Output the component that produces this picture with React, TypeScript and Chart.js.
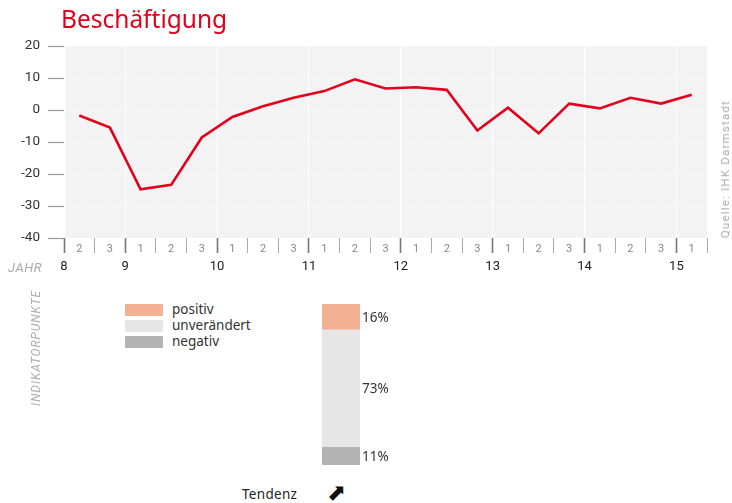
import React, { useEffect, useRef } from 'react';
import { Chart, registerables } from 'chart.js';

Chart.register(...registerables);

// ---------- data ----------
const periodLabels = ['2', '3', '1', '2', '3', '1', '2', '3', '1', '2', '3', '1', '2', '3', '1', '2', '3', '1', '2', '3', '1'];
const employment = [-1.7, -5.5, -24.8, -23.4, -8.6, -2.2, 1.2, 3.8, 5.9, 9.6, 6.7, 7.1, 6.3, -6.4, 0.7, -7.3, 2.0, 0.5, 3.8, 2.0, 4.8];
const yearStarts = [0, 2, 5, 8, 11, 14, 17, 20];
const yearLabels = ['8', '9', '10', '11', '12', '13', '14', '15'];
const yMin = -40;
const yMax = 20;
const yStep = 10;
const shareCategories = ['negativ', 'unverändert', 'positiv'];
const shareValues = [11, 73, 16];
const legendOrder = ['positiv', 'unverändert', 'negativ'];

// ---------- styles ----------
const RED = '#e2001a';
const shareColors: Record<string, string> = {
  positiv: '#f4b092',
  'unverändert': '#e6e6e6',
  negativ: '#b3b3b3',
};

const bgPlugin = {
  id: 'bgPlugin',
  beforeDraw(chart: any) {
    const { ctx, chartArea } = chart;
    if (!chartArea) return;
    ctx.save();
    ctx.fillStyle = '#f3f3f3';
    ctx.fillRect(chartArea.left, chartArea.top, chartArea.right - chartArea.left, chartArea.bottom - chartArea.top);
    ctx.restore();
  },
};

const barLabelPlugin = {
  id: 'barLabelPlugin',
  afterDatasetsDraw(chart: any) {
    const { ctx } = chart;
    ctx.save();
    ctx.font = '13.5px "Noto Sans", sans-serif';
    ctx.fillStyle = '#333';
    ctx.textBaseline = 'middle';
    ctx.textAlign = 'left';
    chart.data.datasets.forEach((ds: any, i: number) => {
      const meta = chart.getDatasetMeta(i);
      const el: any = meta.data[0];
      if (!el) return;
      const x = el.x + el.width / 2 + 2;
      const y = (el.y + el.base) / 2 + 1;
      ctx.fillText(ds.data[0] + '%', x, y);
    });
    ctx.restore();
  },
};

function LineChart() {
  const ref = useRef<HTMLCanvasElement>(null);
  useEffect(() => {
    if (!ref.current) return;
    const isYear = (i: any) => typeof i === 'number' && yearStarts.includes(i);
    const chart = new Chart(ref.current, {
      type: 'line',
      data: {
        labels: periodLabels,
        datasets: [
          {
            data: employment,
            borderColor: RED,
            borderWidth: 2.6,
            pointRadius: 0,
            tension: 0,
            fill: false,
          },
        ],
      },
      options: {
        responsive: false,
        animation: false,
        events: [],
        layout: { padding: { left: 0, right: 25, top: 46, bottom: 13 } },
        plugins: { legend: { display: false }, tooltip: { enabled: false } },
        scales: {
          x: {
            type: 'category',
            position: 'bottom',
            offset: true,
            weight: 1,
            border: { display: false },
            grid: {
              offset: true,
              color: (c: any) => (isYear(c.index) ? '#ffffff' : 'rgba(0,0,0,0)'),
              lineWidth: 1,
              tickColor: (c: any) => (isYear(c.index) ? '#777' : '#aaa'),
              tickWidth: (c: any) => (isYear(c.index) ? 1.6 : 1),
              tickLength: 15,
              tickBorderDash: [],
            },
            ticks: {
              autoSkip: false,
              maxRotation: 0,
              padding: -10,
              color: '#888',
              font: { family: 'Roboto', size: 11 },
            },
            afterFit: (s: any) => {
              s.height = 17;
            },
          },
          xYear: {
            type: 'linear',
            position: 'bottom',
            min: 0,
            max: periodLabels.length,
            weight: 2,
            border: { display: false },
            grid: { display: false, drawTicks: false, drawOnChartArea: false },
            afterBuildTicks: (s: any) => {
              s.ticks = yearStarts.map((v) => ({ value: v }));
            },
            ticks: {
              autoSkip: false,
              maxRotation: 0,
              padding: 4,
              color: '#222',
              font: { family: 'Roboto', size: 13 },
              callback: (v: any) => {
                const idx = yearStarts.indexOf(Number(v));
                return idx >= 0 ? yearLabels[idx] : '';
              },
            },
            afterFit: (s: any) => {
              s.height = 22;
            },
          },
          y: {
            type: 'linear',
            min: yMin,
            max: yMax,
            border: { display: false, dash: [1, 2] },
            grid: {
              color: (c: any) =>
                c.tick && (c.tick.value === yMin || c.tick.value === yMax) ? 'rgba(0,0,0,0)' : '#ffffff',
              lineWidth: 1,
              tickColor: '#999',
              tickLength: 16,
              tickWidth: 1.2,
              tickBorderDash: [],
            },
            ticks: {
              stepSize: yStep,
              padding: 8,
              color: '#333',
              font: { family: 'Roboto', size: 13.5 },
            },
            afterFit: (s: any) => {
              s.width = 64;
            },
          },
        },
      } as any,
      plugins: [bgPlugin],
    });
    return () => chart.destroy();
  }, []);
  return (
    <canvas
      ref={ref}
      width={732}
      height={290}
      style={{ position: 'absolute', left: 0, top: 0, width: 732, height: 290 }}
    />
  );
}

function ShareBar() {
  const ref = useRef<HTMLCanvasElement>(null);
  useEffect(() => {
    if (!ref.current) return;
    const chart = new Chart(ref.current, {
      type: 'bar',
      data: {
        labels: [''],
        datasets: shareCategories.map((name, i) => ({
          label: name,
          data: [shareValues[i]],
          backgroundColor: shareColors[name],
          borderWidth: 0,
          barPercentage: 1,
          categoryPercentage: 1,
        })),
      },
      options: {
        responsive: false,
        animation: false,
        events: [],
        layout: { padding: { left: 0, right: 42, top: 0, bottom: 0 } },
        plugins: { legend: { display: false }, tooltip: { enabled: false } },
        scales: {
          x: { stacked: true, display: false },
          y: { stacked: true, display: false, min: 0, max: 100 },
        },
      } as any,
      plugins: [barLabelPlugin],
    });
    return () => chart.destroy();
  }, []);
  return (
    <canvas
      ref={ref}
      width={80}
      height={161}
      style={{ position: 'absolute', left: 322, top: 304, width: 80, height: 161 }}
    />
  );
}

export default function App() {
  const legendFont = '"Noto Sans", sans-serif';
  return (
    <div
      style={{
        position: 'absolute',
        left: 0,
        top: 0,
        width: 732,
        height: 503,
        background: '#fff',
        overflow: 'hidden',
        fontFamily: 'Roboto, sans-serif',
      }}
    >
      <LineChart />
      <div
        style={{
          position: 'absolute',
          left: 61,
          top: 3,
          fontFamily: legendFont,
          fontSize: 24.5,
          color: RED,
          lineHeight: '32px',
          whiteSpace: 'nowrap',
        }}
      >
        Beschäftigung
      </div>
      <div
        style={{
          position: 'absolute',
          left: 8,
          top: 260,
          fontStyle: 'italic',
          fontSize: 13,
          letterSpacing: 0.6,
          color: '#aaa',
          lineHeight: '16px',
        }}
      >
        JAHR
      </div>
      <div
        style={{
          position: 'absolute',
          left: 29,
          top: 290,
          writingMode: 'vertical-rl',
          transform: 'rotate(180deg)',
          fontStyle: 'italic',
          fontSize: 12,
          letterSpacing: 0.9,
          color: '#b0b0b0',
          lineHeight: '14px',
          whiteSpace: 'nowrap',
        }}
      >
        INDIKATORPUNKTE
      </div>
      <div
        style={{
          position: 'absolute',
          left: 719,
          top: 100,
          writingMode: 'vertical-rl',
          transform: 'rotate(180deg)',
          fontSize: 11.5,
          letterSpacing: 1.2,
          color: '#aaa',
          lineHeight: '13px',
          whiteSpace: 'nowrap',
        }}
      >
        Quelle: IHK Darmstadt
      </div>
      {legendOrder.map((name, i) => (
        <React.Fragment key={name}>
          <div
            style={{
              position: 'absolute',
              left: 125,
              top: 304 + i * 16,
              width: 38,
              height: 12,
              background: shareColors[name],
            }}
          />
          <div
            style={{
              position: 'absolute',
              left: 172,
              top: 301 + i * 16,
              fontFamily: legendFont,
              fontSize: 13.5,
              lineHeight: '16px',
              color: '#333',
              whiteSpace: 'nowrap',
            }}
          >
            {name}
          </div>
        </React.Fragment>
      ))}
      <ShareBar />
      <div
        style={{
          position: 'absolute',
          left: 242,
          top: 485,
          fontFamily: legendFont,
          fontSize: 13.5,
          lineHeight: '18px',
          color: '#222',
          letterSpacing: 0.3,
          whiteSpace: 'nowrap',
        }}
      >
        Tendenz
      </div>
      <div
        style={{
          position: 'absolute',
          left: 327,
          top: 478,
          fontFamily: '"DejaVu Sans", sans-serif',
          fontSize: 23,
          lineHeight: '28px',
          color: '#111',
        }}
      >
        ⬈
      </div>
    </div>
  );
}
